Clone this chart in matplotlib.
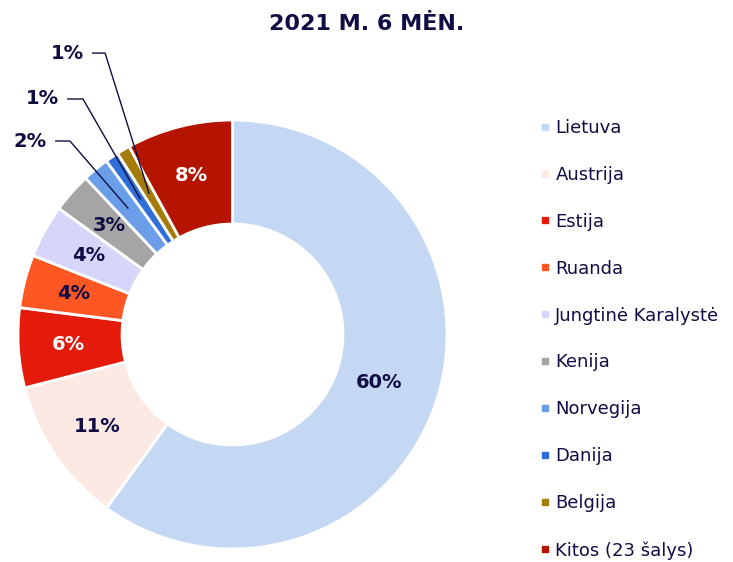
import matplotlib.pyplot as plt
from matplotlib.lines import Line2D
import numpy as np

# Data
countries = ["Lietuva", "Austrija", "Estija", "Ruanda", "Jungtinė Karalystė",
             "Kenija", "Norvegija", "Danija", "Belgija", "Kitos (23 šalys)"]
shares = [60, 11, 6, 4, 4, 3, 2, 1, 1, 8]
colors = ["#C5D8F3", "#FDE9E3", "#E41A0B", "#FF5724", "#D6D6FB",
          "#A5A5A5", "#6A9EE8", "#2F6FD8", "#A57C0A", "#B51500"]

navy = "#100D45"
white_labels = {"Estija", "Kitos (23 šalys)"}
# small slices get callout labels (text position, elbow x) in data units
callouts = {"Norvegija": (-0.944, 0.902, -0.758),
            "Danija": (-0.888, 1.098, -0.697),
            "Belgija": (-0.772, 1.312, -0.594)}

fig = plt.figure(figsize=(7.33, 5.62), dpi=100)
ax = fig.add_axes([18 / 733, 13 / 562, 429 / 733, 429 / 562])

wedges, _ = ax.pie(shares, colors=colors, startangle=90, counterclock=False,
                   radius=1, wedgeprops=dict(width=0.485, edgecolor="white", linewidth=2))
ax.set_xlim(-1, 1)
ax.set_ylim(-1, 1)
ax.axis("off")

for w, name, val in zip(wedges, countries, shares):
    mid = np.deg2rad((w.theta1 + w.theta2) / 2)
    r = 0.72 if val > 50 else 0.765
    x, y = r * np.cos(mid), r * np.sin(mid)
    txt = f"{val}%"
    if name in callouts:
        tx, ty, ex = callouts[name]
        ax.text(tx, ty, txt, ha="center", va="center", fontsize=14,
                fontweight="bold", color=navy, clip_on=False)
        ax.plot([tx + 0.12, ex, x], [ty, ty, y], color=navy, lw=1, clip_on=False)
    else:
        c = "white" if name in white_labels else navy
        ax.text(x, y, txt, ha="center", va="center", fontsize=14,
                fontweight="bold", color=c)

fig.text(0.5, 1 - 24 / 562, "2021 M. 6 MĖN.", ha="center", va="center",
         fontsize=16, fontweight="bold", color=navy)

handles = [Line2D([], [], marker="s", linestyle="none", markersize=5,
                  markerfacecolor=c, markeredgecolor=c) for c in colors]
leg = fig.legend(handles, countries, loc="upper left",
                 bbox_to_anchor=(531 / 733, 1 - 110 / 562), frameon=False,
                 fontsize=13, labelspacing=1.6, handlelength=0.6,
                 handletextpad=0.25, borderpad=0)
for t in leg.get_texts():
    t.set_color(navy)

fig.savefig("out.png", dpi=100)
